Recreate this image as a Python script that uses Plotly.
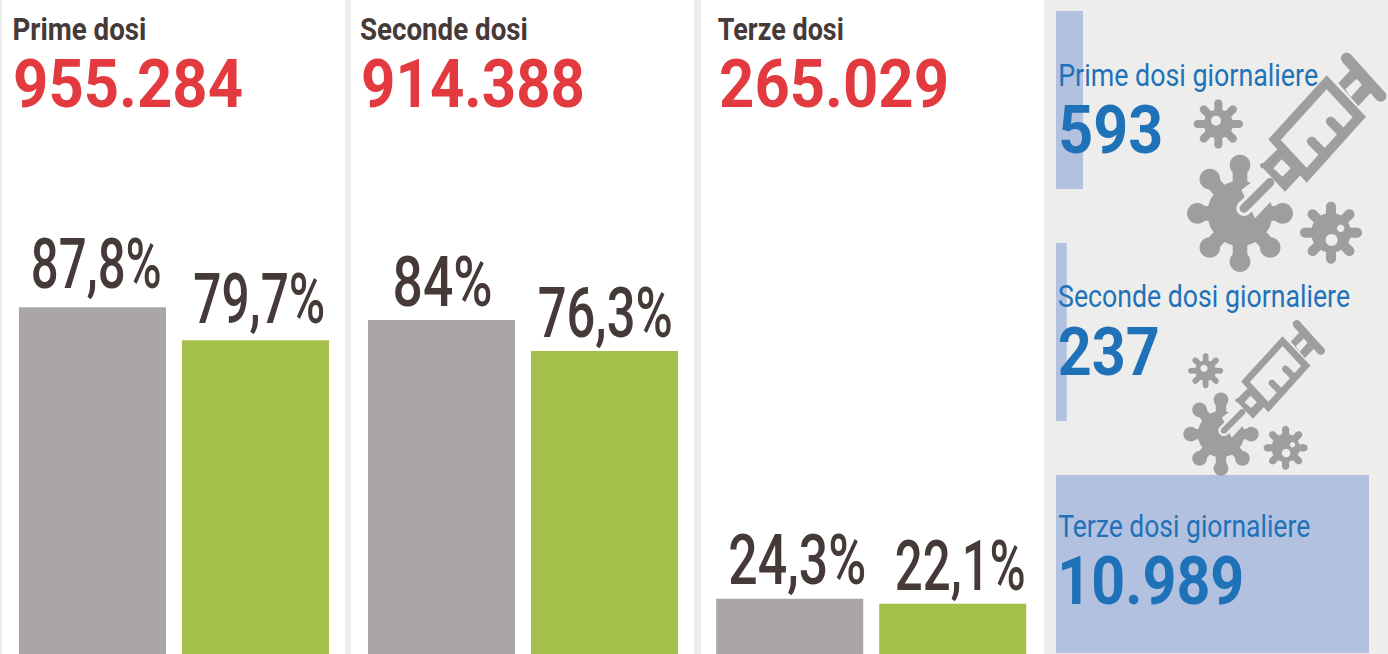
import json
import math
import plotly.graph_objects as go

W, H = 1388, 654

# ---- data ----
panel_titles = ["Prime dosi", "Seconde dosi", "Terze dosi"]
panel_totals = ["955.284", "914.388", "265.029"]
groups = ["Gruppo A", "Gruppo B"]
prime_pct = [87.8, 79.7]
seconde_pct = [84, 76.3]
terze_pct = [24.3, 22.1]
daily_titles = ["Prime dosi giornaliere", "Seconde dosi giornaliere", "Terze dosi giornaliere"]
daily_values = [593, 237, 10989]
daily_labels = ["593", "237", "10.989"]

DARK = "#453a38"; RED = "#e23a3e"; BLUE = "#1f72b8"
GREY = "#aaa6a7"; GREEN = "#a4bf4a"; LBLUE = "#b2c1e0"
BG = "#ededec"; ICON = "#9f9da0"
FONT = "Roboto"

# rendered width of each text in the reference, used to condense the glyphs
TEXT_WIDTHS = {
    "87,8%": 131, "79,7%": 132, "84%": 100, "76,3%": 135, "24,3%": 138, "22,1%": 131,
    "955.284": 230, "914.388": 224, "265.029": 230,
    "Prime dosi": 134, "Seconde dosi": 168, "Terze dosi": 126,
    "Prime dosi giornaliere": 260, "Seconde dosi giornaliere": 292, "Terze dosi giornaliere": 252,
    "593": 105, "237": 102, "10.989": 187,
}


def fx(p):
    return p / W


def fy(p):
    return 1 - p / H


def pct(v):
    return ("%g%%" % v).replace(".", ",")


fig = go.Figure()
ann = []

panels = [
    (2, 345, 2.58, 163.3, "", prime_pct, [4, 3.5], [19, 17]),
    (351, 694, 1.09, 163.4, "2", seconde_pct, [1.5, 1], [14, 14]),
    (701, 1044, 0.0, 288.1, "3", terze_pct, [7.5, 8], [15, 14]),
]
axes = {}
for (x0, x1, r0, r1, s, vals, dxs, gaps) in panels:
    fig.add_trace(go.Bar(
        x=groups, y=vals, width=0.902,
        marker=dict(color=[GREY, GREEN], line_width=0),
        cliponaxis=False,
        xaxis="x" + s, yaxis="y" + s, showlegend=False, hoverinfo="skip",
    ))
    for g, v, dx, gap in zip(groups, vals, dxs, gaps):
        ann.append(dict(x=g, y=v, xref="x" + s, yref="y" + s, text=pct(v), showarrow=False,
                        xanchor="center", yanchor="bottom", xshift=dx, yshift=gap - 19,
                        font=dict(family=FONT, size=70, color=DARK, weight=500)))
    lo = -0.555 if s != "3" else -0.544
    hi = 1.549 if s != "3" else 1.56
    axes["xaxis" + s] = dict(domain=[fx(x0), fx(x1)], range=[lo, hi], visible=False,
                             type="category", anchor="y" + s, fixedrange=True)
    axes["yaxis" + s] = dict(domain=[0, 1], range=[r0, r1], visible=False,
                             anchor="x" + s, fixedrange=True)

fig.add_trace(go.Bar(
    y=daily_titles, x=daily_values, orientation="h", width=0.767,
    marker=dict(color=LBLUE, line_width=0), xaxis="x4", yaxis="y4",
    showlegend=False, hoverinfo="skip",
))
axes["xaxis4"] = dict(domain=[fx(1056), fx(1369)], range=[0, 6879], visible=False,
                      anchor="y4", fixedrange=True)
axes["yaxis4"] = dict(domain=[0, 1], range=[2.388, -0.431], visible=False, type="category",
                      anchor="x4", fixedrange=True)


def text(x, y, s, size, color, weight=400):
    ann.append(dict(x=fx(x + TEXT_WIDTHS[s] / 2), y=fy(y), xref="paper", yref="paper", text=s,
                    showarrow=False, xanchor="center", yanchor="middle",
                    font=dict(family=FONT, size=size, color=color, weight=weight)))


for x, title, total in zip([12, 360, 718], panel_titles, panel_totals):
    text(x, 29, title, 32, DARK, 700)
    text(x + 1, 84, total, 67, RED, 700)
for y, title, lab in zip([75, 296, 526], daily_titles, daily_labels):
    text(1057.5, y, title, 32, BLUE)
    text(1057.5, y + 55 + (1 if y == 296 else 0), lab, 67, BLUE, 700)

# ---- decorative icons ----
shapes = []
for x0, x1 in [(2, 345), (351, 694), (701, 1044)]:
    shapes.append(dict(type="rect", xref="paper", yref="paper", x0=fx(x0), x1=fx(x1), y0=0, y1=1,
                       fillcolor="white", line_width=0, layer="below"))


def make_icon(tr):
    def poly(pts, color):
        d = "M" + "L".join("%.5f,%.5f" % (fx(a), fy(b)) for a, b in (tr(p) for p in pts)) + "Z"
        shapes.append(dict(type="path", path=d, xref="paper", yref="paper", fillcolor=color,
                           line_width=0, layer="above"))

    def disc(cx, cy, r, color):
        poly([(cx + r * math.cos(i * math.pi / 14), cy + r * math.sin(i * math.pi / 14)) for i in range(28)], color)

    def stroke(a, b, w, color, cap=True):
        dx, dy = b[0] - a[0], b[1] - a[1]
        n = math.hypot(dx, dy)
        nx, ny = -dy / n * w / 2, dx / n * w / 2
        poly([(a[0] + nx, a[1] + ny), (b[0] + nx, b[1] + ny), (b[0] - nx, b[1] - ny), (a[0] - nx, a[1] - ny)], color)
        if cap:
            disc(a[0], a[1], w / 2, color)
            disc(b[0], b[1], w / 2, color)

    def small(cx, cy, body, reach, w, holes):
        for i in range(8):
            t = i * math.pi / 4
            stroke((cx, cy), (cx + reach * math.cos(t), cy + reach * math.sin(t)), w, ICON)
        disc(cx, cy, body, ICON)
        for hx, hy, hr in holes:
            disc(hx, hy, hr, BG)

    cx, cy = 600, 640
    for i in range(7):
        t = -math.pi / 2 - i * math.pi / 4
        ex, ey = cx + 128 * math.cos(t), cy + 145 * math.sin(t)
        stroke((cx, cy), (ex, ey), 44, ICON, False)
        disc(ex, ey, 31, ICON)
    disc(cx, cy, 98, ICON)
    poly([(604, 570), (636, 545), (730, 590), (692, 605), (645, 655)], BG)
    stroke((612, 625), (690, 547), 46, BG)
    stroke((612, 625), (690, 547), 26, ICON)
    poly([(662, 497), (735, 425), (808, 497), (735, 575)], ICON)
    disc(668, 497, 8, ICON)
    poly([(700, 505), (725, 478), (752, 505), (727, 530)], BG)
    poly([(685, 418), (860, 226), (978, 350), (800, 548)], ICON)
    poly([(722, 420), (860, 268), (938, 352), (800, 503)], BG)
    stroke((848, 457), (815, 424), 28, ICON)
    stroke((905, 397), (872, 364), 28, ICON)
    poly([(895, 250), (945, 195), (1008, 262), (955, 318)], ICON)
    poly([(916, 268), (950, 236), (966, 254), (932, 292)], BG)
    stroke((920, 175), (1022, 288), 34, ICON)
    small(535, 372, 44, 62, 24, [(528, 362, 15)])
    small(873, 698, 60, 78, 30, [(875, 720, 18), (902, 685, 11)])


make_icon(lambda p: (1040 + p[0] / 3, p[1] / 3))
make_icon(lambda p: (1040 + (117 + 0.71 * p[0]) / 3, 270 + (38 + 0.71 * p[1]) / 3))

fig.update_layout(
    width=W, height=H, margin=dict(l=0, r=0, t=0, b=0), autosize=False,
    paper_bgcolor=BG, plot_bgcolor="rgba(0,0,0,0)", barmode="overlay",
    showlegend=False, shapes=shapes, annotations=ann, **axes,
)

post = """
document.body.style.margin = '0';
document.documentElement.style.overflow = 'hidden';
var widths = %s;
function condense() {
  document.querySelectorAll('text.annotation-text').forEach(function (t) {
    var w = widths[t.textContent];
    if (w) { t.setAttribute('textLength', w); t.setAttribute('lengthAdjust', 'spacingAndGlyphs'); }
  });
}
condense();
var gd = document.getElementById('{plot_id}');
if (gd.on) gd.on('plotly_afterplot', condense);
setTimeout(condense, 50);
""" % json.dumps(TEXT_WIDTHS, ensure_ascii=False)
fig.write_html("out.html", config={"displayModeBar": False}, post_script=post)
